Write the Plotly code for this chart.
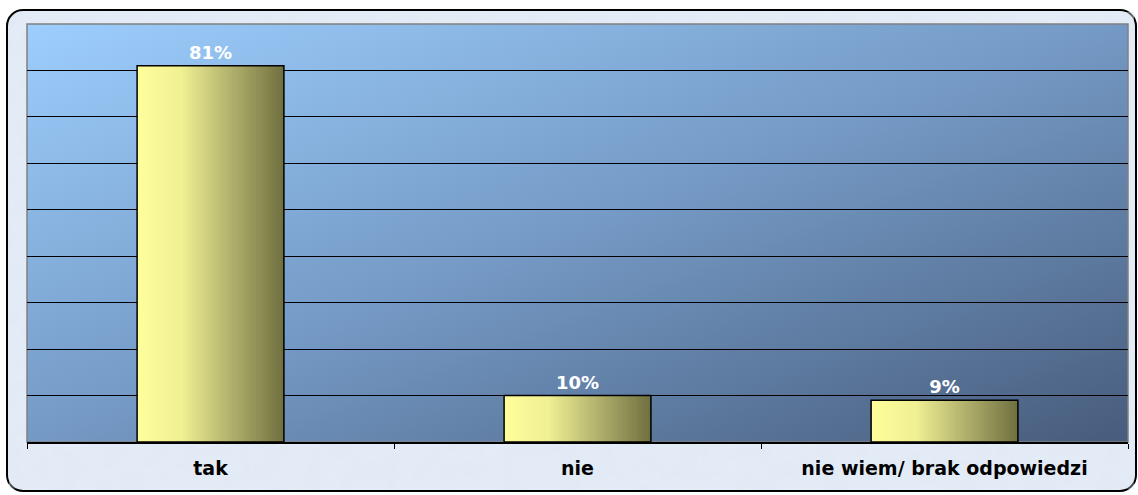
import base64
import plotly.graph_objects as go

categories = ["tak", "nie", "nie wiem/ brak odpowiedzi"]
values = [0.81, 0.10, 0.09]
labels = ["81%", "10%", "9%"]

W, H = 1138, 495
L, R, T, B = 27, 10, 24, 53
pw, ph = W - L - R, H - T - B

# background (page, rounded frame, gradient plot area) as an inline SVG
svg = f'''<svg xmlns="http://www.w3.org/2000/svg" width="{W}" height="{H}" viewBox="0 0 {W} {H}" preserveAspectRatio="none">
<defs>
<linearGradient id="g" x1="0" y1="0" x2="1" y2="1">
<stop offset="0" stop-color="#9DCEFD"/>
<stop offset="0.5" stop-color="#7499C4"/>
<stop offset="1" stop-color="#475C7C"/>
</linearGradient>
<filter id="n" x="0" y="0" width="1" height="1">
<feTurbulence type="fractalNoise" baseFrequency="0.05" numOctaves="3" seed="4"/>
<feColorMatrix values="0 0 0 0 0.78  0 0 0 0 0.84  0 0 0 0 0.93  0 0 0 1.4 -0.45"/>
</filter>
</defs>
<rect x="0" y="0" width="{W}" height="{H}" fill="#ffffff"/>
<rect x="7" y="10" width="1129" height="481" rx="16" ry="16" fill="#E2EBF5" stroke="#000000" stroke-width="2"/>
<rect x="9" y="12" width="1125" height="477" rx="15" ry="15" filter="url(#n)"/>
<rect x="{L}" y="{T}" width="{pw}" height="{ph}" fill="url(#g)" stroke="#808080" stroke-width="1.5"/>
</svg>'''
src = "data:image/svg+xml;base64," + base64.b64encode(svg.encode()).decode()

fig = go.Figure()

# bar gradient drawn as thin vertical strips of each bar
stops = [(0.0, (255, 255, 155)), (0.3, (240, 240, 148)), (0.65, (175, 175, 108)), (1.0, (112, 112, 64))]

def col(t):
    for (a, ca), (b, cb) in zip(stops[:-1], stops[1:]):
        if a <= t <= b:
            f = (t - a) / (b - a)
            return "rgb(%d,%d,%d)" % tuple(round(ca[k] + (cb[k] - ca[k]) * f) for k in range(3))
    return "rgb(%d,%d,%d)" % stops[-1][1]

bw = 0.40
N = 48
for i in range(N):
    off = -bw / 2 + i * bw / N
    wid = min(2.5 * bw / N, bw / 2 - off)
    fig.add_trace(go.Bar(
        x=categories, y=values,
        width=wid, offset=off,
        marker=dict(color=col((i + 0.5) / N), line=dict(width=0)),
        hoverinfo="skip", showlegend=False,
    ))

fig.add_trace(go.Bar(
    x=categories, y=values, width=bw, offset=-bw / 2,
    marker=dict(color="rgba(0,0,0,0)", line=dict(color="#000000", width=1.5)),
    text=labels, textposition="outside", cliponaxis=False,
    textfont=dict(family="DejaVu Sans", size=18, color="#ffffff", weight="bold"),
    showlegend=False,
))

fig.update_layout(
    width=W, height=H,
    margin=dict(l=L, r=R, t=T, b=B),
    barmode="overlay",
    paper_bgcolor="#ffffff",
    plot_bgcolor="rgba(0,0,0,0)",
    images=[dict(source=src, xref="paper", yref="paper",
                 x=-L / pw, y=1 + T / ph, sizex=W / pw, sizey=H / ph,
                 xanchor="left", yanchor="top", sizing="stretch", layer="below")],
    xaxis=dict(
        showgrid=False, showline=True, linecolor="#000000", linewidth=1.5,
        ticks="outside", tickson="boundaries", ticklen=5, tickcolor="#000000",
        tickfont=dict(family="DejaVu Sans", size=19, color="#000000", weight="bold"),
        ticklabelstandoff=8,
        range=[-0.5, 2.5],
    ),
    yaxis=dict(
        range=[0, 0.9], dtick=0.1, showticklabels=False,
        showgrid=True, gridcolor="#000000", gridwidth=1.3,
        zeroline=False, showline=False,
    ),
)

fig.write_html("out.html", config={"displayModeBar": False},
               post_script="document.body.style.margin='0';document.body.style.overflow='hidden';")
